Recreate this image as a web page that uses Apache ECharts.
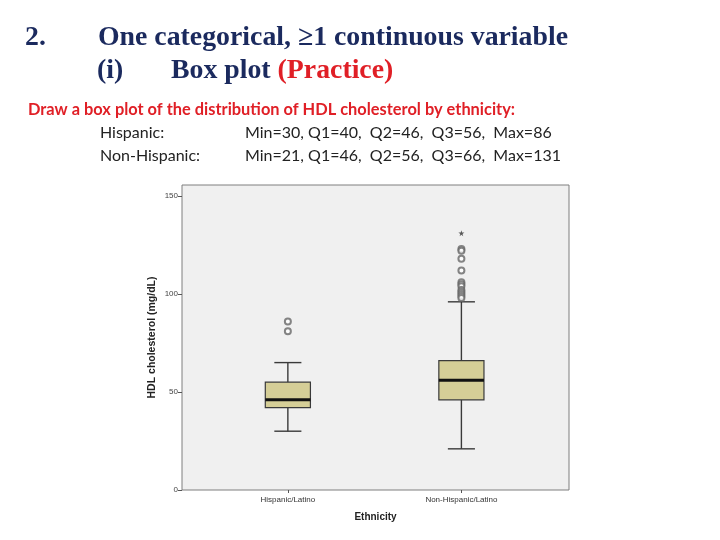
<!DOCTYPE html>
<html>
<head>
<meta charset="utf-8">
<script src="https://cdn.jsdelivr.net/npm/echarts@6/dist/echarts.min.js"></script>
<style>html,body{margin:0;padding:0;background:#fff}#c{width:720px;height:540px}</style>
</head>
<body>
<div id="c"></div>
<script>
var categories = ['Hispanic/Latino', 'Non-Hispanic/Latino'];
var whiskerLow = [30, 21];
var q1 = [42, 46];
var median = [46, 56];
var q3 = [55, 66];
var whiskerHigh = [65, 96];
var outliersHispanic = [86, 81];
var outliersNonHispanic = [123, 122, 118, 112, 106, 105, 104, 102, 101, 100, 99, 98];
var extremesNonHispanic = [131];
var yTicks = [0, 50, 100, 150];

var boxData = categories.map(function (c, i) {
  return [i, whiskerLow[i], q1[i], median[i], q3[i], whiskerHigh[i]];
});
var outlierData = outliersHispanic.map(function (v) { return [0, v]; })
  .concat(outliersNonHispanic.map(function (v) { return [1, v]; }));
var extremeData = extremesNonHispanic.map(function (v) { return [1, v]; });

var chart = echarts.init(document.getElementById('c'));
var navy = '#1b2a5e';
var red = '#e01f26';
var tFont = 'bold 27.8px "Liberation Serif"';
var option = {
  animation: false,
  backgroundColor: '#fff',
  graphic: [
    { type: 'text', left: 25, top: 24, style: { text: '2.', font: tFont, fill: navy } },
    { type: 'text', left: 98, top: 24, style: { text: 'One categorical, \u22651 continuous variable', font: tFont, fill: navy } },
    { type: 'text', left: 97, top: 57, style: { text: '(i)', font: tFont, fill: navy } },
    { type: 'text', left: 171, top: 57, style: {
        text: '{a|Box plot }{b|(Practice)}',
        rich: {
          a: { font: tFont, fill: navy, color: navy },
          b: { font: tFont, fill: red, color: red }
        } } },
    { type: 'text', left: 28, top: 102, style: { text: 'Draw a box plot of the distribution of HDL cholesterol by ethnicity:', font: 'bold 16.4px Lato', fill: red } },
    { type: 'text', left: 100, top: 125, style: { text: 'Hispanic:', font: '16px Lato', fill: '#222' } },
    { type: 'text', left: 245, top: 125, style: { text: 'Min=30, Q1=40,  Q2=46,  Q3=56,  Max=86', font: '16px Lato', fill: '#222' } },
    { type: 'text', left: 100, top: 148, style: { text: 'Non-Hispanic:', font: '16px Lato', fill: '#222' } },
    { type: 'text', left: 245, top: 148, style: { text: 'Min=21, Q1=46,  Q2=56,  Q3=66,  Max=131', font: '16px Lato', fill: '#222' } }
  ],
  grid: {
    left: 182, right: 151, top: 185, bottom: 50,
    show: true, backgroundColor: '#f0f0f0', borderColor: '#7f7f7f', borderWidth: 1
  },
  xAxis: {
    type: 'value', min: -0.61, max: 1.62,
    name: 'Ethnicity', nameLocation: 'middle', nameGap: 22,
    nameTextStyle: { fontFamily: 'Liberation Sans', fontWeight: 'bold', fontSize: 10, color: '#222' },
    axisLine: { show: false, onZero: false },
    splitLine: { show: false },
    axisTick: { show: true, length: 3, lineStyle: { color: '#555' }, customValues: [0, 1] },
    axisLabel: {
      customValues: [0, 1], margin: 6, fontSize: 8, fontFamily: 'Liberation Sans', color: '#333',
      formatter: function (v) { return categories[Math.round(v)]; }
    }
  },
  yAxis: {
    type: 'value', min: 0, max: 155.6,
    name: 'HDL cholesterol (mg/dL)', nameLocation: 'middle', nameGap: 24, nameMoveOverlap: false,
    nameTextStyle: { fontFamily: 'Liberation Sans', fontWeight: 'bold', fontSize: 10.5, color: '#222' },
    axisLine: { show: false, onZero: false },
    splitLine: { show: false },
    axisTick: { show: true, length: 4, lineStyle: { color: '#555' }, customValues: yTicks },
    axisLabel: { customValues: yTicks, margin: 4, fontSize: 8, fontFamily: 'Liberation Sans', color: '#444' }
  },
  series: [
    {
      type: 'custom',
      data: boxData,
      encode: { x: 0, y: [1, 2, 3, 4, 5] },
      renderItem: function (params, api) {
        var x = api.value(0);
        var unit = api.size([1, 0])[0];
        var hb = unit * 0.13, hc = unit * 0.078;
        var pLow = api.coord([x, api.value(1)]);
        var pQ1 = api.coord([x, api.value(2)]);
        var pMed = api.coord([x, api.value(3)]);
        var pQ3 = api.coord([x, api.value(4)]);
        var pHigh = api.coord([x, api.value(5)]);
        var cx = pLow[0];
        var ln = { stroke: '#3a3a3a', lineWidth: 1.4 };
        return {
          type: 'group',
          children: [
            { type: 'line', shape: { x1: cx, y1: pLow[1], x2: cx, y2: pQ1[1] }, style: ln },
            { type: 'line', shape: { x1: cx, y1: pQ3[1], x2: cx, y2: pHigh[1] }, style: ln },
            { type: 'line', shape: { x1: cx - hc, y1: pLow[1], x2: cx + hc, y2: pLow[1] }, style: ln },
            { type: 'line', shape: { x1: cx - hc, y1: pHigh[1], x2: cx + hc, y2: pHigh[1] }, style: ln },
            { type: 'rect', shape: { x: cx - hb, y: pQ3[1], width: hb * 2, height: pQ1[1] - pQ3[1] },
              style: { fill: '#d5ce97', stroke: '#3a3a3a', lineWidth: 1.2 } },
            { type: 'line', shape: { x1: cx - hb, y1: pMed[1], x2: cx + hb, y2: pMed[1] },
              style: { stroke: '#111', lineWidth: 3 } }
          ]
        };
      }
    },
    {
      type: 'scatter', data: outlierData, symbol: 'emptyCircle', symbolSize: 6,
      itemStyle: { color: '#666', borderColor: '#666', borderWidth: 1.1 }
    },
    {
      type: 'scatter', data: extremeData,
      symbol: 'path://M50,0 L61,35 L98,35 L68,57 L79,91 L50,70 L21,91 L32,57 L2,35 L39,35 Z',
      symbolSize: 6, itemStyle: { color: '#333' }
    }
  ]
};
chart.setOption(option);
</script>
</body>
</html>
